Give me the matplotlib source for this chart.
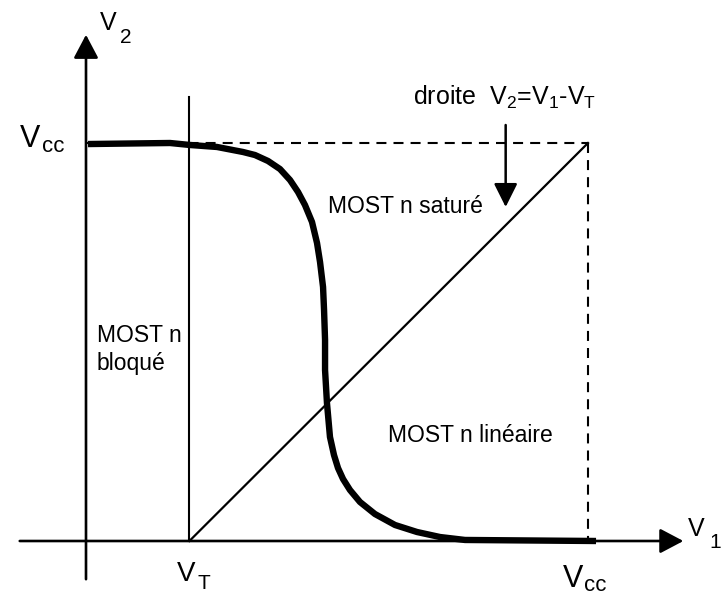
import matplotlib
matplotlib.use("Agg")
import matplotlib.pyplot as plt

plt.rcParams['font.family'] = ['Liberation Sans', 'DejaVu Sans']
plt.rcParams['mathtext.fontset'] = 'custom'
plt.rcParams['mathtext.rm'] = 'Liberation Sans'
plt.rcParams['mathtext.it'] = 'Liberation Sans'

# ---- data ----
VT = 1.03          # threshold voltage
VCC = 5.0          # supply voltage
v1 = [0.020, 0.837, 1.036, 1.305, 1.564, 1.683, 1.813, 1.932, 2.032, 2.112,
      2.181, 2.251, 2.301, 2.331, 2.361, 2.371, 2.381, 2.381, 2.400, 2.430,
      2.470, 2.510, 2.560, 2.629, 2.729, 2.878, 3.078, 3.297, 3.526, 3.775, 5.080]
v2 = [4.987, 5.0, 4.975, 4.950, 4.887, 4.849, 4.774, 4.673, 4.535, 4.384,
      4.221, 4.008, 3.744, 3.505, 3.191, 2.902, 2.525, 2.148, 1.734, 1.307,
      1.080, 0.917, 0.779, 0.641, 0.490, 0.339, 0.201, 0.113, 0.050, 0.013, 0.0]
sat_line_x = [VT, VCC]
sat_line_y = [0.0, VCC]

W, H = 727, 595
fig = plt.figure(figsize=(W / 100, H / 100), dpi=100)
ax = fig.add_axes([0, 0, 1, 1])
ax.axis('off')
ax.set_xlim(-86 / 100.4, (W - 86) / 100.4)
ax.set_ylim(-(H - 541) / 79.6, 541 / 79.6)

k = 'black'
# axes with arrows
arrow = dict(arrowstyle='-|>,head_length=0.72,head_width=0.38', mutation_scale=20,
             lw=1.9, color=k, shrinkA=0, shrinkB=0)
ax.annotate('', xy=(0, 6.36), xytext=(0, -0.48), arrowprops=arrow)
ax.annotate('', xy=(5.95, 0), xytext=(-0.66, 0), arrowprops=arrow)

# V_T vertical line
ax.plot([VT, VT], [0, 5.58], color=k, lw=1.5)
# dashed limits
ax.plot([0, VCC], [VCC, VCC], color=k, lw=1.5, linestyle=(0, (4.8, 3.4)))
ax.plot([VCC, VCC], [VCC, 0], color=k, lw=1.5, linestyle=(0, (4.8, 3.4)))
# saturation boundary line
ax.plot(sat_line_x, sat_line_y, color=k, lw=1.6)
# transfer characteristic
ax.plot(v1, v2, color=k, lw=4.6, solid_joinstyle='round', solid_capstyle='butt')

# arrow pointing at droite
ax.annotate('', xy=(4.18, 4.196), xytext=(4.18, 5.226),
            arrowprops=dict(arrowstyle='-|>,head_length=0.72,head_width=0.36',
                            mutation_scale=20, lw=1.8, color=k, shrinkA=0, shrinkB=0))


def ftext(px, py, s, size, **kw):
    fig.text(px / W, 1 - py / H, s, fontsize=size, ha='left', va='baseline', **kw)


# axis labels
ftext(100, 30, 'V', 18)
ftext(120, 43, '2', 15)
ftext(688, 536, 'V', 18)
ftext(709, 548, '1', 15)
ftext(20, 147, 'V', 22)
ftext(42, 152, 'cc', 16)
ftext(563, 587, 'V', 22)
ftext(584, 591, 'cc', 16)
ftext(177, 581, 'V', 20)
ftext(197, 589, 'T', 15)

# annotations
ftext(413, 105, r'droite  V$_2$=V$_1$-V$_\mathregular{T}$', 18)
ftext(328, 213, 'MOST n saturé', 16.5)
ftext(97, 342, 'MOST n', 16.5)
ftext(97, 370, 'bloqué', 16.5)
ftext(388, 442, 'MOST n linéaire', 16.5)

fig.savefig('out.png', dpi=100)
